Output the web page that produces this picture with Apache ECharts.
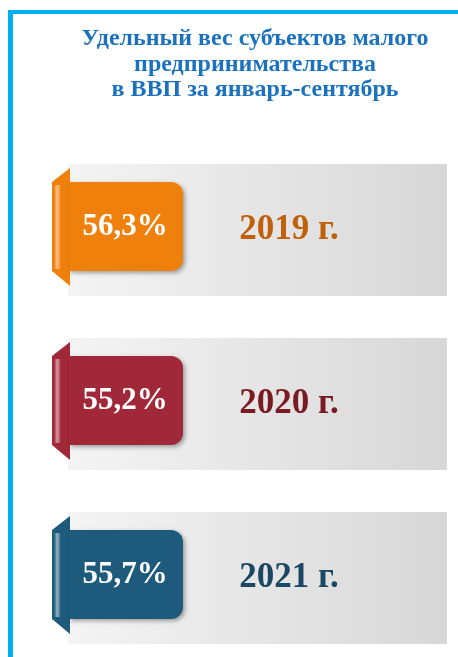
<!DOCTYPE html>
<html>
<head>
<meta charset="utf-8">
<script src="https://cdn.jsdelivr.net/npm/echarts@6/dist/echarts.min.js"></script>
<style>
    html, body { margin: 0; padding: 0; background: #fff; }
    #main { width: 458px; height: 657px; }
</style>
</head>
<body>
<div id="main"></div>
<script>
    var titleLines = ['Удельный вес субъектов малого', 'предпринимательства', 'в ВВП за январь-сентябрь'];
    var years = ['2019', '2020', '2021'];
    var shares = [56.3, 55.2, 55.7];
    var tagColors = ['#f0800c', '#a12838', '#1d5a7b'];
    var yearColors = ['#c0600b', '#7a1b24', '#1a4863'];

    var serif = "'Liberation Serif', 'Times New Roman', serif";
    var mychart = echarts.init(document.getElementById('main'));

    function fmt(v) {
        return v.toFixed(1).replace('.', ',') + '%';
    }

    var data = [];
    for (var i = 0; i < years.length; i++) {
        data.push({ value: [shares[i], years[i]] });
    }

    function renderItem(params, api) {
        var idx = params.dataIndex;
        var cy = api.coord([0, api.value(1)])[1];
        var tTop = cy - 48, tBot = cy + 41;
        return {
            type: 'group',
            children: [
                {
                    type: 'rect',
                    shape: { x: 68, y: cy - 66, width: 379, height: 132 },
                    style: {
                        fill: new echarts.graphic.LinearGradient(0, 0, 1, 0, [
                            { offset: 0, color: '#f4f4f4' },
                            { offset: 1, color: '#d7d7d7' }
                        ])
                    }
                },
                {
                    type: 'polygon',
                    shape: { points: [[70, tTop - 14], [52, tTop], [52, tBot], [70, tBot + 15]] },
                    style: { fill: tagColors[idx] }
                },
                {
                    type: 'rect',
                    shape: { x: 69, y: tTop, width: 114, height: tBot - tTop, r: [0, 12, 12, 0] },
                    style: {
                        fill: tagColors[idx],
                        shadowBlur: 4,
                        shadowOffsetX: 2,
                        shadowOffsetY: 2,
                        shadowColor: 'rgba(0,0,0,0.35)'
                    }
                },
                {
                    type: 'rect',
                    shape: { x: 54, y: tTop + 3, width: 7, height: tBot - tTop - 5 },
                    style: {
                        fill: new echarts.graphic.LinearGradient(0, 0, 1, 0, [
                            { offset: 0, color: 'rgba(255,255,255,0)' },
                            { offset: 0.45, color: 'rgba(255,255,255,0.55)' },
                            { offset: 1, color: 'rgba(255,255,255,0)' }
                        ])
                    }
                },
                {
                    type: 'text',
                    style: {
                        x: 125, y: cy - 3,
                        text: fmt(api.value(0)),
                        align: 'center', verticalAlign: 'middle',
                        fill: '#ffffff',
                        font: 'bold 31px ' + serif
                    }
                },
                {
                    type: 'text',
                    style: {
                        x: 289, y: cy,
                        text: years[idx] + ' г.',
                        align: 'center', verticalAlign: 'middle',
                        fill: yearColors[idx],
                        font: 'bold 35px ' + serif
                    }
                }
            ]
        };
    }

    var titleEls = [
        { type: 'rect', shape: { x: 8, y: 10, width: 450, height: 4 }, style: { fill: '#00b0f0' } },
        { type: 'rect', shape: { x: 8, y: 10, width: 5, height: 647 }, style: { fill: '#00b0f0' } }
    ];
    for (var j = 0; j < titleLines.length; j++) {
        titleEls.push({
            type: 'text',
            style: {
                x: 255, y: 39 + j * 25.5,
                text: titleLines[j],
                align: 'center', verticalAlign: 'middle',
                fill: '#1a72bf',
                font: 'bold 24px ' + serif
            }
        });
    }

    var option = {
        animation: false,
        grid: { left: 0, right: 0, top: 230, height: 348 },
        xAxis: { type: 'value', show: false, min: 0, max: 100 },
        yAxis: { type: 'category', show: false, inverse: true, boundaryGap: false, data: years },
        graphic: titleEls,
        series: [{
            type: 'custom',
            renderItem: renderItem,
            clip: false,
            data: data
        }]
    };

    mychart.setOption(option, true);
</script>
</body>
</html>
